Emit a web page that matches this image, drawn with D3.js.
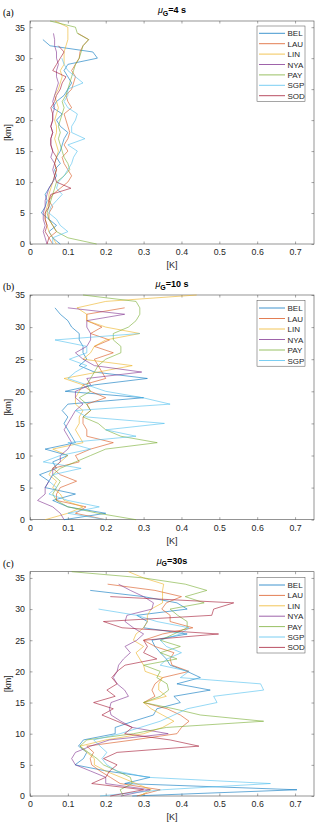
<!DOCTYPE html>
<html><head><meta charset="utf-8">
<script src="https://cdn.jsdelivr.net/npm/d3@7"></script>
<style>
html,body{margin:0;padding:0;background:#fff;}
svg{display:block;}
text{font-family:"Liberation Sans",Arial,Helvetica,sans-serif;}
</style></head>
<body>
<script>
// ---- data (value per 1-km level, index = height in km) ----
const stations = ["BEL","LAU","LIN","NYA","PAY","SGP","SOD"];
const colors = ["#0072BD","#D95319","#EDB120","#7E2F8E","#77AC30","#4DBEEE","#A2142F"];
const xTicks = [0,0.1,0.2,0.3,0.4,0.5,0.6,0.7];
const yTicks = [0,5,10,15,20,25,30,35];

const A_BEL=[0.08,0.06,0.05,0.07,0.05,0.03,0.04,0.045,0.04,0.05,0.06,0.07,0.065,0.08,0.07,0.08,0.085,0.09,0.1,0.08,0.07,0.085,0.06,0.07,0.09,0.1,0.11,0.1,0.09,0.1,0.178,0.166,0.053,0.034];
const A_LAU=[0.06,0.05,0.07,0.06,0.05,0.05,0.06,0.05,0.06,0.08,0.1,0.11,0.1,0.09,0.085,0.1,0.09,0.1,0.105,0.1,0.095,0.09,0.11,0.1,0.095,0.11,0.115,0.12,0.11,0.12,0.13,0.132,0.14,0.155,0.127];
const A_LIN=[0.07,0.06,0.05,0.045,0.04,0.04,0.045,0.05,0.05,0.055,0.06,0.065,0.07,0.065,0.07,0.075,0.07,0.065,0.07,0.07,0.065,0.07,0.075,0.07,0.065,0.075,0.08,0.085,0.08,0.09,0.09,0.09,0.095,0.1,0.1,0.1,0.066];
const A_NYA=[0.045,0.04,0.035,0.04,0.035,0.035,0.04,0.04,0.045,0.05,0.06,0.065,0.06,0.065,0.055,0.06,0.055,0.055,0.06,0.055,0.06,0.06,0.065,0.06,0.065,0.07,0.075,0.07,0.07,0.075,0.07,0.07,0.065,0.065,0.062];
const A_PAY=[0.176,0.1,0.07,0.06,0.05,0.045,0.05,0.055,0.06,0.065,0.07,0.09,0.105,0.1,0.09,0.085,0.08,0.075,0.08,0.075,0.08,0.085,0.09,0.085,0.095,0.1,0.105,0.11,0.115,0.12,0.13,0.135,0.14,0.155,0.125,0.12,0.053];
const A_SGP=[0.06,0.06,0.1,0.08,0.07,0.05,0.055,0.07,0.085,0.07,0.075,0.09,0.1,0.11,0.115,0.125,0.1,0.145,0.11,0.11,0.12,0.125,0.1,0.09,0.1,0.1,0.14,0.12,0.1,0.09,0.084];
const A_SOD=[0.045,0.05,0.04,0.045,0.04,0.04,0.05,0.05,0.055,0.108,0.07,0.065,0.07,0.065,0.07,0.06,0.055,0.055,0.06,0.055,0.06,0.06,0.055,0.065,0.07,0.08,0.085,0.095,0.06,0.07,0.08,0.09,0.075];

const B_BEL=[0.09,0.2,0.1,0.06,0.12,0.04,0.05,0.025,0.07,0.06,0.1,0.04,0.12,0.11,0.1,0.09,0.1,0.085,0.1,0.3,0.093,0.17,0.31,0.17,0.13,0.15,0.14,0.14,0.13,0.13,0.11,0.1,0.08,0.066];
const B_LAU=[0.2,0.12,0.148,0.07,0.07,0.08,0.123,0.08,0.06,0.13,0.12,0.16,0.22,0.15,0.15,0.14,0.14,0.16,0.15,0.2,0.16,0.14,0.2,0.19,0.18,0.17,0.22,0.17,0.21,0.16,0.19,0.15,0.15,0.25];
const B_LIN=[0.04,0.1,0.14,0.09,0.08,0.06,0.07,0.05,0.06,0.08,0.1,0.06,0.14,0.13,0.12,0.13,0.13,0.14,0.12,0.12,0.13,0.14,0.09,0.18,0.27,0.14,0.16,0.17,0.2,0.29,0.2,0.15,0.15,0.124,0.2,0.44];
const B_NYA=[0.09,0.08,0.06,0.02,0.04,0.04,0.05,0.06,0.06,0.08,0.08,0.1,0.11,0.1,0.09,0.1,0.11,0.12,0.14,0.12,0.12,0.16,0.15,0.295,0.17,0.14,0.12,0.15,0.16,0.16,0.15,0.15,0.25,0.1];
const B_PAY=[0.28,0.18,0.1,0.07,0.06,0.07,0.08,0.06,0.08,0.12,0.16,0.2,0.336,0.24,0.2,0.18,0.14,0.16,0.15,0.13,0.16,0.15,0.16,0.17,0.18,0.2,0.24,0.24,0.22,0.22,0.26,0.28,0.29,0.29,0.28,0.14];
const B_SGP=[0.2,0.1,0.183,0.1,0.05,0.07,0.05,0.06,0.135,0.035,0.08,0.16,0.1,0.28,0.2,0.355,0.15,0.12,0.37,0.298,0.2,0.15,0.1,0.12,0.15,0.104,0.15,0.15,0.066,0.29];

const C_BEL=[0.27,0.705,0.25,0.317,0.203,0.119,0.141,0.15,0.128,0.141,0.225,0.225,0.273,0.326,0.335,0.397,0.38,0.476,0.388,0.45,0.415,0.37,0.36,0.344,0.33,0.322,0.415,0.3,0.31,0.282,0.415,0.388,0.3,0.159];
const C_LAU=[0.282,0.344,0.238,0.212,0.185,0.163,0.159,0.168,0.15,0.273,0.388,0.4,0.42,0.397,0.362,0.3,0.33,0.322,0.33,0.35,0.42,0.375,0.37,0.38,0.33,0.3,0.35,0.43,0.37,0.37,0.348,0.36,0.4,0.33,0.205];
const C_LIN=[0.29,0.32,0.28,0.24,0.2,0.17,0.17,0.15,0.132,0.2,0.3,0.35,0.38,0.35,0.32,0.3,0.36,0.34,0.34,0.35,0.304,0.3,0.29,0.28,0.3,0.273,0.28,0.3,0.31,0.31,0.32,0.35,0.35,0.35,0.353,0.3,0.26];
const C_NYA=[0.24,0.317,0.2,0.2,0.16,0.12,0.11,0.12,0.16,0.21,0.365,0.27,0.24,0.214,0.21,0.214,0.26,0.25,0.23,0.22,0.23,0.234,0.247,0.265,0.251,0.282,0.3,0.273,0.251,0.256,0.322,0.326,0.3,0.265,0.234];
const C_PAY=[0.247,0.238,0.27,0.265,0.23,0.194,0.177,0.154,0.132,0.15,0.273,0.36,0.617,0.45,0.38,0.3,0.344,0.366,0.362,0.335,0.344,0.3,0.388,0.344,0.397,0.344,0.38,0.415,0.415,0.39,0.37,0.46,0.41,0.467,0.41,0.3,0.11];
const C_SGP=[0.185,0.35,0.635,0.309,0.23,0.203,0.19,0.203,0.185,0.168,0.238,0.291,0.344,0.38,0.415,0.494,0.485,0.617,0.609,0.397,0.42,0.344,0.362,0.4,0.36,0.344,0.397,0.42,0.335,0.282,0.181];
const C_SOD=[0.212,0.3,0.163,0.2,0.21,0.23,0.194,0.23,0.446,0.37,0.25,0.27,0.23,0.19,0.22,0.168,0.225,0.203,0.23,0.216,0.23,0.251,0.335,0.3,0.31,0.3,0.498,0.243,0.194,0.48,0.485,0.538,0.212];

const panels = [
  {tag:"(a)", mu:"4 s", top:21, bottom:244, ymax:36, series:[A_BEL,A_LAU,A_LIN,A_NYA,A_PAY,A_SGP,A_SOD], legTop:26, legStep:10.4},
  {tag:"(b)", mu:"10 s", top:295, bottom:519.7, ymax:35, series:[B_BEL,B_LAU,B_LIN,B_NYA,B_PAY,B_SGP], legTop:300.7, legStep:10.5},
  {tag:"(c)", mu:"30s", top:571.7, bottom:796, ymax:36, series:[C_BEL,C_LAU,C_LIN,C_NYA,C_PAY,C_SGP,C_SOD], legTop:577.7, legStep:10.4}
];

const W=320, H=828, L=30, R=314;
const svg = d3.select("body").append("svg").attr("width",W).attr("height",H);
const axisCol="#262626", boxCol="#4d4d4d";

panels.forEach(p=>{
  const x = d3.scaleLinear().domain([0,0.75]).range([L,R]);
  const y = d3.scaleLinear().domain([0,p.ymax]).range([p.bottom,p.top]);
  const g = svg.append("g");

  const xb = g.append("g").attr("transform",`translate(0,${p.bottom})`)
    .call(d3.axisBottom(x).tickValues(xTicks).tickFormat(d=>d===0?"0":d3.format(".1f")(d)).tickSize(-2.5).tickPadding(5));
  const xt = g.append("g").attr("transform",`translate(0,${p.top})`)
    .call(d3.axisTop(x).tickValues(xTicks).tickFormat("").tickSize(-2.5));
  const yl = g.append("g").attr("transform",`translate(${L},0)`)
    .call(d3.axisLeft(y).tickValues(yTicks).tickSize(-2.5).tickPadding(5));
  const yr = g.append("g").attr("transform",`translate(${R},0)`)
    .call(d3.axisRight(y).tickValues(yTicks).tickFormat("").tickSize(-2.5));
  [xb,xt,yl,yr].forEach(a=>{
    a.selectAll(".domain").remove();
    a.selectAll("line").attr("stroke",boxCol).attr("stroke-width",0.5);
    a.selectAll("text").attr("fill",axisCol).style("font-size","8.8px")
      .style("font-family",'"Liberation Sans",Arial,sans-serif');
  });
  g.append("rect").attr("x",L).attr("y",p.top).attr("width",R-L).attr("height",p.bottom-p.top)
    .attr("fill","none").attr("stroke",boxCol).attr("stroke-width",0.6);

  const line = d3.line().x(d=>x(d)).y((d,i)=>y(i));
  p.series.forEach((s,k)=>{
    g.append("path").datum(s).attr("d",line).attr("fill","none")
      .attr("stroke",colors[k]).attr("stroke-width",0.7).attr("stroke-opacity",0.85)
      .attr("stroke-linejoin","round");
  });

  g.append("text").attr("x",(L+R)/2).attr("y",p.bottom+24).attr("text-anchor","middle")
    .style("font-size","9px").attr("fill",axisCol).text("[K]");
  g.append("text").attr("transform",`translate(11,${(p.top+p.bottom)/2}) rotate(-90)`)
    .attr("text-anchor","middle").style("font-size","9px").attr("fill",axisCol).text("[km]");
  const t = g.append("text").attr("x",(L+R)/2).attr("y",p.top-8).attr("text-anchor","middle")
    .style("font-size","9px").style("font-weight","bold").attr("fill","#000");
  t.append("tspan").style("font-style","italic").style("font-weight","normal").text("μ");
  t.append("tspan").attr("dy",2.5).style("font-size","7px").text("G");
  t.append("tspan").attr("dy",-2.5).text("="+p.mu);
  g.append("text").attr("x",3).attr("y",p.top-5).style("font-family",'"Liberation Serif","Times New Roman",serif')
    .style("font-size","9.5px").attr("fill","#000").text(p.tag);

  const n = p.series.length;
  const lg = g.append("g");
  lg.append("rect").attr("x",257).attr("y",p.legTop).attr("width",48).attr("height",n*p.legStep+2.5)
    .attr("fill","#fff").attr("stroke",boxCol).attr("stroke-width",0.5);
  for(let k=0;k<n;k++){
    const yy = p.legTop+7.3+k*p.legStep;
    lg.append("line").attr("x1",259).attr("x2",285).attr("y1",yy).attr("y2",yy)
      .attr("stroke",colors[k]).attr("stroke-width",0.75);
    lg.append("text").attr("x",287.5).attr("y",yy+3).style("font-size","8px").attr("fill",axisCol).text(stations[k]);
  }
});
</script>
</body></html>
